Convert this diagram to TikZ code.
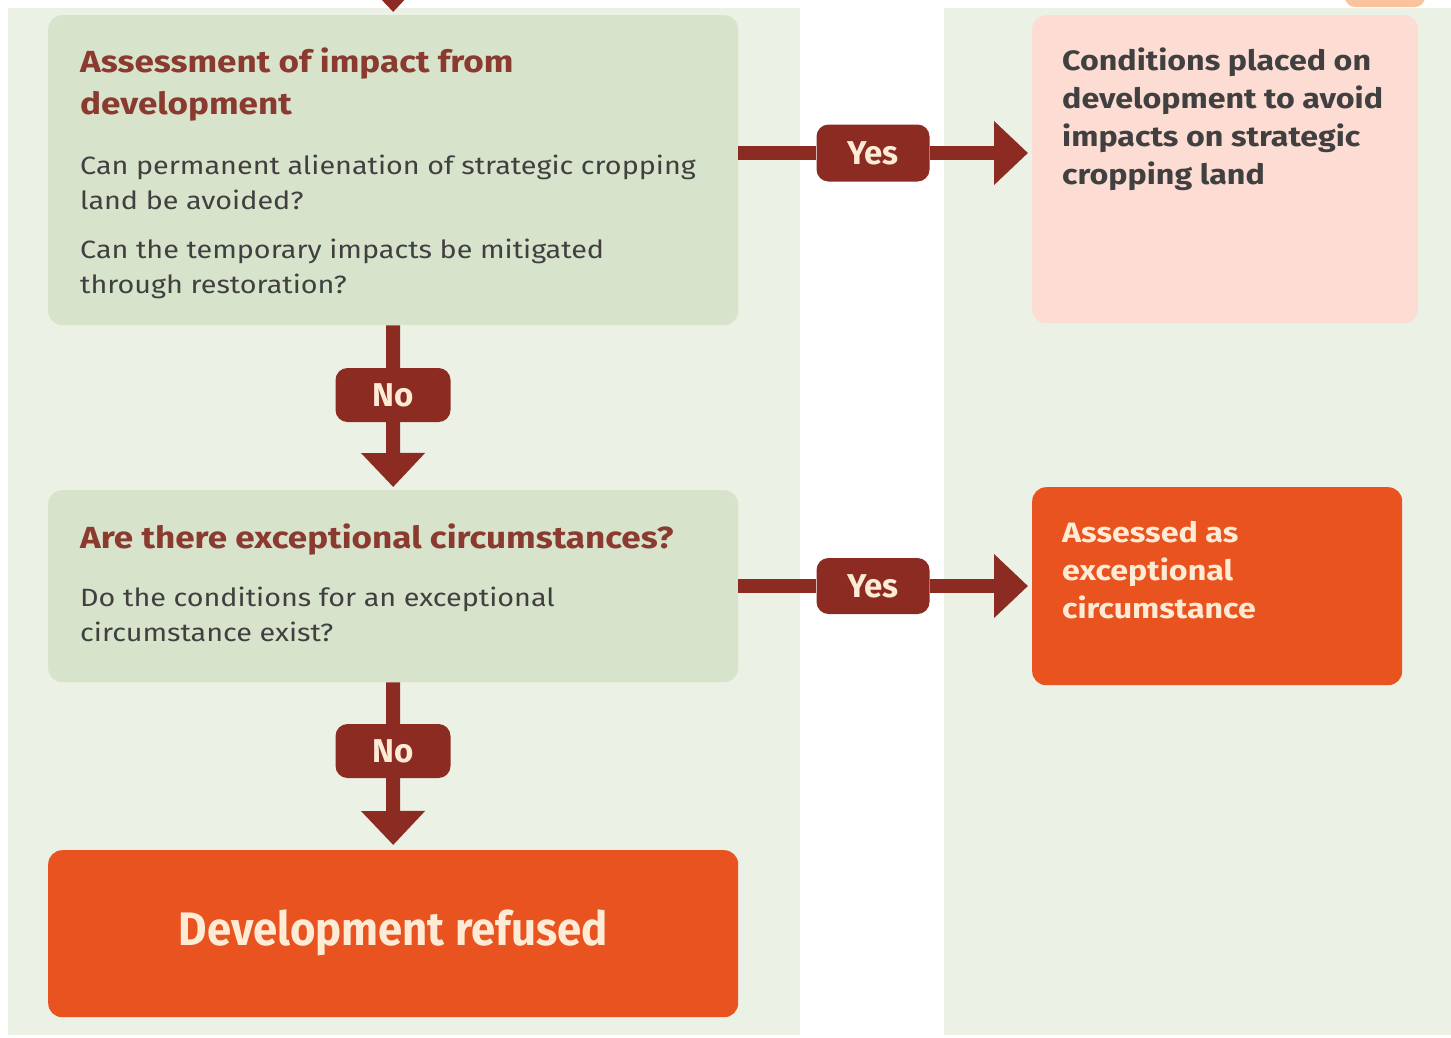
\documentclass[tikz,border=0pt]{standalone}
\usepackage{fontspec}
\setmainfont{Fira Sans}[FakeStretch=1.15]
\newfontfamily\plainfont{Fira Sans}
\newfontfamily\narrowfont{Fira Sans}[FakeStretch=0.93]
\usetikzlibrary{arrows.meta,positioning}

\definecolor{panelgreen}{HTML}{EBF1E5}
\definecolor{boxgreen}{HTML}{D8E3CB}
\definecolor{boxpink}{HTML}{FCDCD3}
\definecolor{boxorange}{HTML}{E9531F}
\definecolor{arrowred}{HTML}{8C2B22}
\definecolor{titlered}{HTML}{8B3A30}
\definecolor{bodygrey}{HTML}{404040}
\definecolor{cream}{HTML}{FDEBD6}
\definecolor{peach}{HTML}{F9C39D}

\begin{document}
\begin{tikzpicture}[x=1pt,y=-1pt,
    box/.style={rounded corners=14pt,inner sep=0pt,anchor=north west},
    boxtitle/.style={inner sep=0pt,align=left,text=titlered,
      font=\fontsize{30.5}{42}\selectfont\bfseries},
    boxbody/.style={inner sep=0pt,align=left,text=bodygrey,
      font=\fontsize{25}{35}\selectfont},
    outcome/.style={inner sep=0pt,align=left,
      font=\fontsize{28}{38}\selectfont\bfseries},
    answer/.style={rounded corners=12pt,fill=arrowred,text=cream,inner sep=0pt,
      font=\plainfont\fontsize{33}{36}\selectfont\bfseries},
    bar/.style={draw=arrowred,line width=14pt},
    arr/.style={bar,-{Triangle[length=34pt,width=62pt]}}]

  \useasboundingbox (0,0) rectangle (1451,1037);

  % background panels
  \fill[panelgreen] (8,8) rectangle (800,1035);
  \fill[panelgreen] (944,8) rectangle (1451,1035);
  \fill[peach,rounded corners=10pt] (1345,-40) rectangle (1425,7);

  % boxes
  \node[box,fill=boxgreen,minimum width=690pt,minimum height=310pt] (assess) at (48,15) {};
  \node[box,fill=boxgreen,minimum width=690pt,minimum height=192pt] (except) at (48,490) {};
  \node[box,fill=boxorange,minimum width=690pt,minimum height=167pt] (refused) at (48,850) {};
  \node[box,fill=boxpink,minimum width=386pt,minimum height=308pt] (conditions) at (1032,15) {};
  \node[box,fill=boxorange,minimum width=370pt,minimum height=198pt] (assessed) at (1032,487) {};

  % texts
  \node[boxtitle,below right=33pt and 32pt of assess.north west] (assesstitle)
    {Assessment of impact from\\development};
  \node[boxbody,below right=140pt and 32pt of assess.north west] (q1)
    {Can permanent alienation of strategic cropping\\land be avoided?};
  \node[boxbody,below right=224pt and 32pt of assess.north west] (q2)
    {Can the temporary impacts be mitigated\\through restoration?};
  \node[boxtitle,below right=34pt and 32pt of except.north west] (excepttitle)
    {Are there exceptional circumstances?};
  \node[boxbody,below right=97pt and 32pt of except.north west] (q3)
    {Do the conditions for an exceptional\\circumstance exist?};
  \node[inner sep=0pt,text=cream,font=\narrowfont\fontsize{47}{52}\selectfont\bfseries]
    (refusedtext) at ([yshift=1pt]refused.center) {Development refused};
  \node[outcome,text=bodygrey,below right=33pt and 30pt of conditions.north west] (conditionstext)
    {Conditions placed on\\development to avoid\\impacts on strategic\\cropping land};
  \node[outcome,text=cream,below right=34pt and 30pt of assessed.north west] (assessedtext)
    {Assessed as\\exceptional\\circumstance};

  % answers
  \node[answer,minimum width=113pt,minimum height=57pt] (yes1) at (873,153) {Yes};
  \node[answer,minimum width=113pt,minimum height=56pt] (yes2) at (873,586) {Yes};
  \node[answer,minimum width=115pt,minimum height=54pt] (no1) at (393,395) {No};
  \node[answer,minimum width=115pt,minimum height=54pt] (no2) at (393,751) {No};
  \coordinate (incoming) at (393,-40);

  % connectors
  \draw[arr] (incoming) -- ([yshift=3pt]assess.north);
  \draw[bar] (assess.east |- yes1) -- (yes1.west);
  \draw[arr] (yes1.east) -- ([xshift=-4pt]conditions.west |- yes1);
  \draw[bar] (except.east |- yes2) -- (yes2.west);
  \draw[arr] (yes2.east) -- ([xshift=-4pt]assessed.west |- yes2);
  \draw[bar] (assess.south) -- (no1.north);
  \draw[arr] (no1.south) -- ([yshift=3pt]except.north);
  \draw[bar] (except.south) -- (no2.north);
  \draw[arr] (no2.south) -- ([yshift=5pt]refused.north);

\end{tikzpicture}
\end{document}
